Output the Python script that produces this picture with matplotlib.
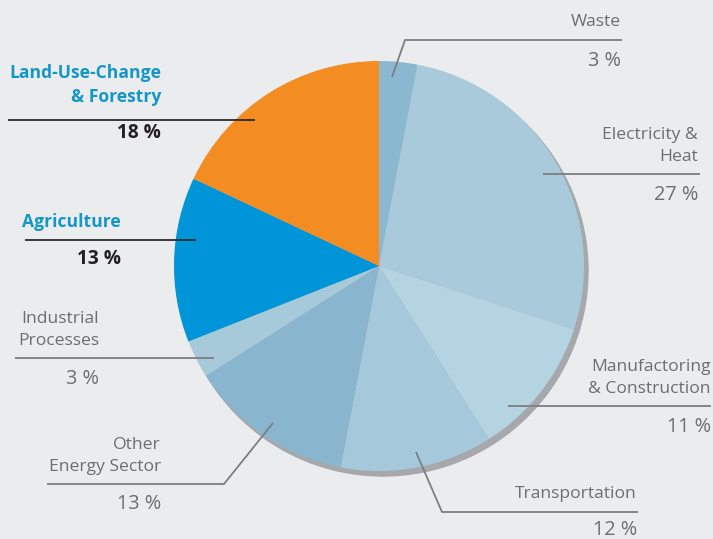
import matplotlib
matplotlib.use("Agg")
import matplotlib.pyplot as plt
from matplotlib.patches import Circle

labels = ["Waste", "Electricity &\nHeat", "Manufactoring\n& Construction", "Transportation",
          "Other\nEnergy Sector", "Industrial\nProcesses", "Agriculture", "Land-Use-Change\n& Forestry"]
values = [3, 27, 11, 12, 13, 3, 13, 18]
colors = ["#8ab8d0", "#a8cadb", "#b5d4e2", "#a5c9db", "#89b6ce", "#a7cadb", "#0095d9", "#f48d21"]
pct_labels = ["3 %", "27 %", "11 %", "12 %", "13 %", "3 %", "13 %", "18 %"]

W, H = 713, 539
bg = "#ebeced"
gray = "#6d6e71"
line_gray = "#7d7e80"
blue_txt = "#1597c6"

fig = plt.figure(figsize=(W / 100, H / 100), dpi=100, facecolor=bg)
ax = fig.add_axes([0, 0, 1, 1])
ax.set_facecolor(bg)

def Y(y):
    return H - y

cx, cy, r = 379, Y(266), 205
# shadow
ax.add_patch(Circle((cx + 4, cy - 5), r, color="#a6a8ab", zorder=1))
ax.pie(values, colors=colors, startangle=90, counterclock=False, center=(cx, cy), radius=r,
       wedgeprops=dict(linewidth=0), frame=True)
for c in ax.patches[1:]:
    c.set_zorder(2)
ax.set_xlim(0, W)
ax.set_ylim(0, H)
ax.set_aspect("equal")
ax.axis("off")

fam = ["Open Sans", "DejaVu Sans"]
fs = 12.6

def line(pts, color=line_gray, lw=1.3):
    xs = [p[0] for p in pts]
    ys = [Y(p[1]) for p in pts]
    ax.plot(xs, ys, color=color, lw=lw, zorder=5, solid_capstyle="butt")

def txt(x, y, s, color=gray, weight="normal", ha="right", ls=1.5, size=fs):
    ax.text(x, Y(y), s, color=color, fontsize=size, fontweight=weight, ha=ha, va="center",
            family=fam, linespacing=ls, zorder=6)

def pct(x, y, s, color=gray, weight="normal", size=14.3):
    txt(x, y, s, color=color, weight=weight, size=size)

# Waste
line([(392, 77), (405, 40), (622, 40)])
txt(621, 22, labels[0]); pct(621, 61, pct_labels[0])
# Electricity
line([(543, 174), (700, 174)])
txt(698, 146, labels[1]); pct(698, 195, pct_labels[1])
# Manufacturing
line([(508, 406), (711, 406)])
txt(711, 378, labels[2]); pct(711, 427, pct_labels[2])
# Transportation
line([(416, 452), (442, 512), (638, 512)])
txt(637, 494, labels[3]); pct(637, 530, pct_labels[3])
# Other energy
line([(273, 423), (224, 484), (47, 484)])
txt(161, 456, labels[4]); pct(161, 504, pct_labels[4])
# Industrial
line([(15, 358), (214, 358)])
txt(99, 330, labels[5]); pct(99, 379, pct_labels[5])
# Agriculture
line([(25, 240), (196, 240)], color="#2b2b2b")
txt(121, 222, labels[6], color=blue_txt, weight="bold")
pct(121, 259, pct_labels[6], color="#231f20", weight="bold", size=13.8)
# LUCF
line([(8, 120), (255, 120)], color="#2b2b2b")
txt(161, 85, labels[7], color=blue_txt, weight="bold")
pct(161, 133, pct_labels[7], color="#231f20", weight="bold", size=13.8)

fig.savefig("out.png", dpi=100, facecolor=bg)
